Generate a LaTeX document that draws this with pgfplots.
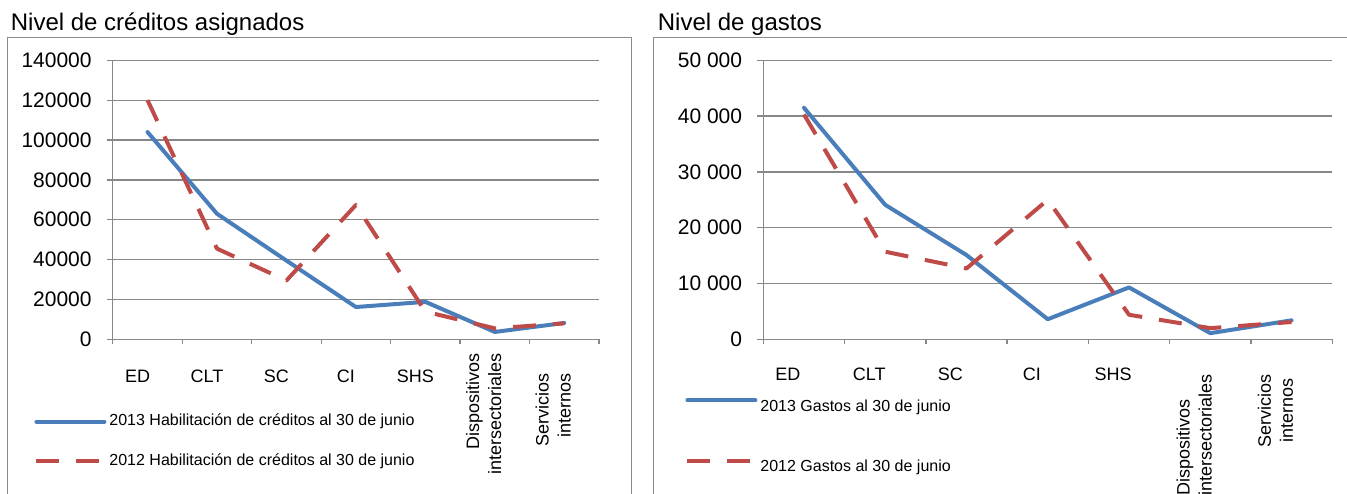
\documentclass[border=0pt]{standalone}
\usepackage{fontspec}
\setmainfont{Liberation Sans}
\usepackage{pgfplots}
\pgfplotsset{compat=1.18}
\definecolor{lblue}{HTML}{4A7EBB}
\definecolor{lred}{HTML}{BE4B48}
\definecolor{gridg}{HTML}{878787}
\definecolor{boxg}{HTML}{8C8C8C}
\pgfplotsset{
  common/.style={
    scale only axis, height=139.5pt, anchor=south west,
    xmin=-0.5, xmax=6.5, ymin=0,
    axis x line*=bottom, axis y line*=left,
    axis line style={gridg, line width=0.65pt},
    ymajorgrids, grid style={gridg, line width=0.65pt},
    tick align=outside, major tick length=3pt, minor tick length=2.5pt,
    every major x tick/.append style={draw=none},
    every minor x tick/.append style={gridg, line width=0.65pt},
    every major y tick/.append style={gridg, line width=0.65pt},
    scaled y ticks=false,
    minor xtick={-0.5,0.5,...,6.5},
    xtick={0,1,2,3,4},
    xticklabels={ED,CLT,SC,CI,SHS},
    extra x ticks={5,6},
    xticklabel style={font=\fontsize{9pt}{11pt}\selectfont, inner sep=0pt, anchor=north},
    yticklabel style={font=\fontsize{10.5pt}{12pt}\selectfont, inner sep=0pt, anchor=east, xshift=-7.4pt},
    legend cell align=left,
    legend style={draw=none, fill=none, font=\fontsize{8pt}{9.6pt}\selectfont,
      anchor=north west, inner sep=0pt, column sep=1.5pt,
      nodes={inner sep=0pt}},
    legend image code/.code={\draw[##1] (0pt,0pt) -- (34pt,0pt);},
    clip=false,
  },
  s13/.style={lblue, line width=2pt, line cap=round, line join=round},
  s12/.style={lred, line width=2pt, line join=round, dash pattern=on 11.5pt off 8.5pt},
}
\begin{document}
\begin{tikzpicture}
\useasboundingbox (0,0) rectangle (673.5pt,-246.5pt);
\begin{scope}[x=0.5pt,y=-0.5pt]
  \draw[boxg, line width=0.5pt] (7.3,495) -- (7.3,37.3) -- (631,37.3) -- (631,495);
  \draw[boxg, line width=0.5pt] (653.5,495) -- (653.5,37.3) -- (1350,37.3);
  \node[anchor=base west, inner sep=0pt, font=\fontsize{12pt}{14pt}\selectfont] at (10.5,30.7) {Nivel de créditos asignados};
  \node[anchor=base west, inner sep=0pt, font=\fontsize{12pt}{14pt}\selectfont] at (657.5,30.7) {Nivel de gastos};
\end{scope}

\begin{axis}[common, at={(56.4pt,-169.65pt)}, width=243.1pt,
  ymax=140000, ytick={0,20000,...,140000},
  yticklabels={0,20000,40000,60000,80000,100000,120000,140000},
  xticklabel style={xshift=-5pt, yshift=-12pt},
  extra x tick labels={{\begin{tabular}{@{}r@{}}Dispositivos\\intersectoriales\end{tabular}},
                       {\begin{tabular}{@{}r@{}}Servicios\\internos\end{tabular}\kern10pt}},
  extra x tick style={xticklabel style={xshift=0.5pt, yshift=8.15pt, rotate=90, anchor=east}},
  legend style={at={(-0.162,-0.267)}, row sep=12.5pt},
]
\addplot[s13] coordinates {(0,104000) (1,63000) (2,39500) (3,16200) (4,18800) (5,3700) (6,8200)};
\addlegendentry{2013 Habilitación de créditos al 30 de junio}
\addplot[s12] coordinates {(0,120000) (1,45500) (2,29500) (3,67400) (4,13900) (5,5500) (6,8000)};
\addlegendentry{2012 Habilitación de créditos al 30 de junio}
\end{axis}

\begin{axis}[common, at={(381.65pt,-169.65pt)}, width=284.45pt,
  ymax=50000, ytick={0,10000,...,50000},
  yticklabels={0,10 000,20 000,30 000,40 000,50 000},
  xticklabel style={xshift=-8pt, yshift=-11pt},
  extra x tick labels={{\begin{tabular}{@{}l@{}}Dispositivos\\intersectoriales\end{tabular}},
                       {\begin{tabular}{@{}c@{}}Servicios\\internos\end{tabular}}},
  extra x tick style={xticklabel style={xshift=1pt, yshift=-3.35pt, rotate=90, anchor=east}},
  legend image code/.code={\draw[#1] (0pt,3.5pt) -- (34pt,3.5pt);},
  legend style={at={(-0.1376,-0.21)}, row sep=22pt},
]
\addplot[s13] coordinates {(0,41500) (1,24100) (2,15100) (3,3600) (4,9300) (5,1100) (6,3400)};
\addlegendentry{2013 Gastos al 30 de junio}
\addplot[s12] coordinates {(0,40300) (1,15700) (2,12700) (3,25000) (4,4400) (5,2000) (6,3100)};
\addlegendentry{2012 Gastos al 30 de junio}
\end{axis}
\end{tikzpicture}
\end{document}
